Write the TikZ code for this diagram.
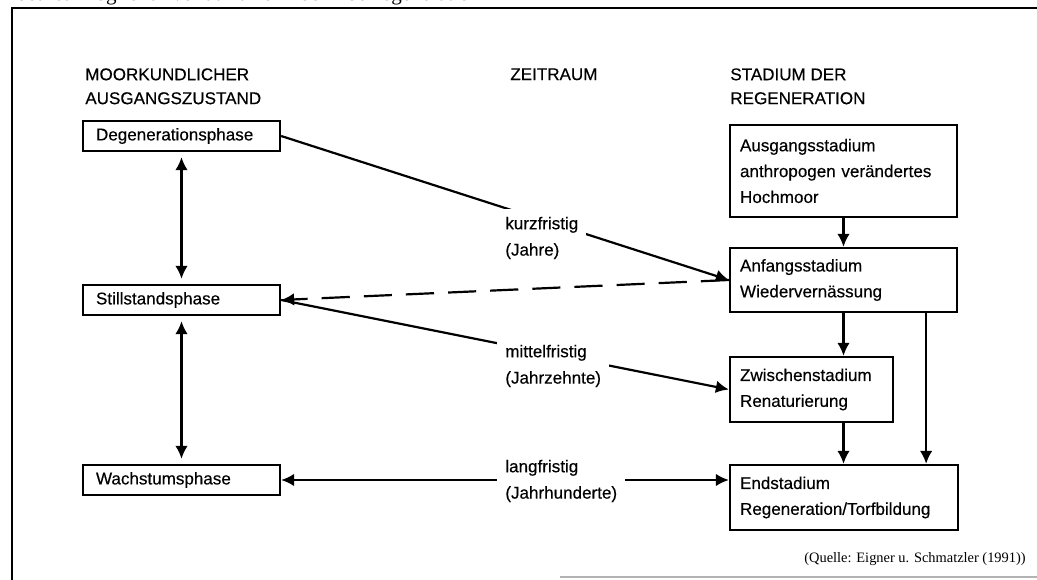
\documentclass[tikz,border=0pt]{standalone}
\usepackage{fontspec}
\setmainfont{Liberation Serif}
\newfontfamily\diagfont[FakeBold=0.35]{Liberation Sans}
\usetikzlibrary{arrows.meta}

\begin{document}
\begin{tikzpicture}[
    x=0.02cm, y=-0.02cm,
    >={Latex[length=2.6mm, width=2.5mm]},
    phase/.style={draw, line width=1.3pt, font=\diagfont\fontsize{9.7}{14}\selectfont, text width=3.42cm, inner xsep=0.26cm, minimum height=0.6cm, align=left},
    stage/.style={draw, line width=1.3pt, font=\diagfont\fontsize{9.7}{14.7}\selectfont, inner xsep=0.2cm, align=left},
    heading/.style={anchor=north west, inner sep=0pt, font=\diagfont\fontsize{9.7}{13.6}\selectfont, align=left},
    period/.style={anchor=west, fill=white, inner sep=0.16cm, font=\diagfont\fontsize{9.7}{15}\selectfont, align=left},
    link/.style={line width=1.25pt}
]

\useasboundingbox (0,0) rectangle (1037,580);
\clip (0,0) rectangle (1037,580);

% Caption (cut off at the top) and frame
\node[anchor=base west, inner sep=0pt, font=\fontsize{12}{14}\selectfont] (caption) at (1,1) {Abb.26: Möglicher Verlauf einer Hochmoorregeneration};
\draw[line width=1.4pt] (12,580) -- (12,8) -- (1037,8);
\draw[gray!60, line width=0.8pt] (560,577) -- (1037,577);

% Column headings
\node[heading] (hmoor) at (85,68) {MOORKUNDLICHER\\AUSGANGSZUSTAND};
\node[heading] (hzeit) at (510,68) {ZEITRAUM};
\node[heading] (hstad) at (730,68) {STADIUM DER\\REGENERATION};

% Phases (left column)
\node[phase] (deg) at (181.5,136) {Degenerationsphase};
\node[phase] (still) at (181.5,300) {Stillstandsphase};
\node[phase] (wach) at (181.5,480) {Wachstumsphase};

% Stages (right column)
\node[stage, text width=4.14cm, minimum height=1.84cm] (aus) at (843.5,171) {Ausgangsstadium\\anthropogen verändertes\\Hochmoor};
\node[stage, text width=4.14cm, minimum height=1.28cm] (anf) at (843.5,280) {Anfangsstadium\\Wiedervernässung};
\node[stage, text width=2.86cm, minimum height=1.3cm] (zw) at (811.5,389.5) {Zwischenstadium\\Renaturierung};
\node[stage, text width=4.16cm, minimum height=1.3cm] (end) at (844,497.5) {Endstadium\\Regeneration/Torfbildung};

% Arrows between phases
\draw[link, <->, shorten <=0.1cm, shorten >=0.1cm] (deg.south) -- (still.north);
\draw[link, <->, shorten <=0.1cm, shorten >=0.1cm] (still.south) -- (wach.north);

% Arrows between stages
\draw[link, ->] (aus.south) -- (anf.north);
\draw[link, ->] (anf.south) -- (anf.south |- zw.north);
\draw[link, ->] (zw.south -| anf.south) -- (anf.south |- end.north);
\draw[link, ->] ([xshift=-0.64cm]anf.south east) -- ([xshift=-0.64cm]anf.south east |- end.north);

% Arrows across the time span
\draw[link, ->] (deg.east) -- (anf.west);
\draw[link, ->, dash pattern=on 16pt off 8pt] (anf.west) -- (still.east);
\draw[link, ->] (still.east) -- (zw.west);
\draw[link, <->] (wach.east) -- (wach.east -| end.west);

% Time labels on top of the arrows
\node[period] (kurz) at (497,238) {kurzfristig\\(Jahre)};
\node[period] (mittel) at (497,366) {mittelfristig\\(Jahrzehnte)};
\node[period] (lang) at (497,481) {langfristig\\(Jahrhunderte)};

% Source
\node[anchor=base east, inner sep=0pt, font=\fontsize{8.2}{10}\selectfont] (source) at (1026,562) {(Quelle: Eigner u. Schmatzler (1991))};

\end{tikzpicture}
\end{document}
